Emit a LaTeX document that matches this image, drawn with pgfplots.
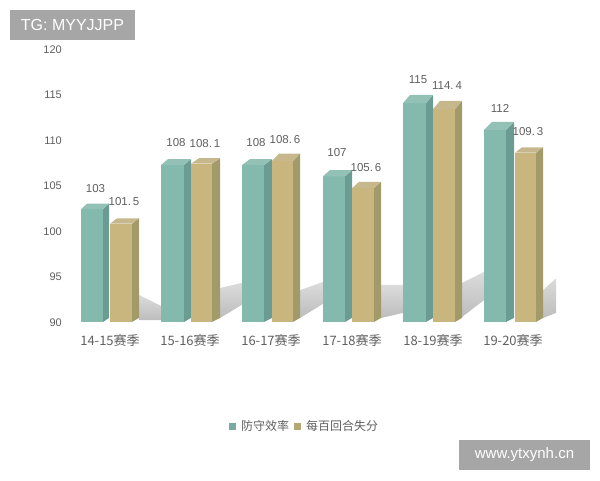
\documentclass[border=0pt]{standalone}
\usepackage{fontspec}
\usepackage{pgfplots}
\pgfplotsset{compat=1.18}
\setmainfont{Liberation Sans}
\newfontfamily\cjk{Noto Sans CJK SC}

\definecolor{tealF}{HTML}{84B9AD}
\definecolor{tealS}{HTML}{6A9C93}
\definecolor{tealT}{HTML}{93C1B6}
\definecolor{tanF}{HTML}{C8B67E}
\definecolor{tanS}{HTML}{A39A69}
\definecolor{tanT}{HTML}{C6B88C}
\definecolor{txt}{HTML}{5F5F5F}
\definecolor{wmgray}{HTML}{A6A6A6}

% one bar: x left, x right, x back, front top, back top, colour prefix
\newcommand{\threedbar}[6]{%
  \addplot[forget plot,draw=none,fill=#6F] coordinates {(#1,90) (#2,90) (#2,#4) (#1,#4)} --cycle;
  \addplot[forget plot,draw=none,fill=#6S] coordinates {(#2,90) (#3,90.45) (#3,#5) (#2,#4)} --cycle;
  \addplot[forget plot,draw=none,fill=#6T] coordinates {(#1,#4) (#2,#4) (#3,#5) (#1+#3-#2,#5)} --cycle;
}
% floor shadow: x left, x right, top left, top right, bottom right, bottom left
\newcommand{\floorshadow}[6]{%
  \addplot[forget plot,draw=none,top color=black!14,bottom color=black!26] coordinates {(#1,#3) (#2,#4) (#2,#5) (#1,#6)} --cycle;
}

\begin{document}
\begin{tikzpicture}[x=1pt,y=1pt]
\useasboundingbox (0,-158) rectangle (600,322);
\begin{axis}[
  at={(0,0)}, anchor=origin,
  scale only axis, x=1pt, y=9.1pt,
  xmin=0, xmax=600, ymin=90, ymax=120,
  clip=false,
  axis line style={draw=none},
  major tick length=0pt,
  ytick={90,95,...,120},
  xtick={110,190,271,352,433,513},
  xticklabels={14-15赛季,15-16赛季,16-17赛季,17-18赛季,18-19赛季,19-20赛季},
  xticklabel style={font=\cjk\fontsize{13}{14}\selectfont,text=txt,anchor=center,yshift=-18pt,inner sep=0pt},
  yticklabel style={font=\fontsize{11}{12}\selectfont,text=txt,anchor=east,xshift=62pt,yshift=-0.5pt,inner sep=0pt},
  /pgf/number format/assume math mode=true,
  legend style={draw=none,fill=none,at={(axis cs:229,78.57)},anchor=west,
    font=\cjk\fontsize{12}{13}\selectfont,text=txt,legend columns=2,
    /tikz/every even column/.append style={column sep=3pt},
    /tikz/every odd column/.append style={column sep=3pt},inner sep=0pt},
  legend image code/.code={\fill[draw=none,#1] (0,-3.5pt) rectangle (7pt,3.5pt);},
]
\floorshadow{139}{161}{92.97}{91.76}{90.2}{90.2}
\floorshadow{220}{242}{93.74}{94.3}{91.9}{90.44}
\floorshadow{300}{323}{93.5}{94.4}{92}{90.44}
\floorshadow{381}{403}{94.07}{94.07}{91}{90.44}
\floorshadow{462}{484}{94.3}{95.5}{92.4}{90.55}
\floorshadow{543}{556}{93.5}{94.8}{91}{90.44}

\threedbar{81}{103}{109}{102.4}{103}{teal}
\threedbar{110}{132}{139}{100.8}{101.4}{tan}
\threedbar{161}{184}{191}{107.25}{107.9}{teal}
\threedbar{191}{212}{220}{107.4}{108}{tan}
\threedbar{242}{264}{272}{107.25}{107.9}{teal}
\threedbar{272}{293}{300}{107.7}{108.5}{tan}
\threedbar{323}{345}{352}{106}{106.7}{teal}
\threedbar{352}{374}{381}{104.7}{105.4}{tan}
\threedbar{403}{426}{433}{114.05}{114.95}{teal}
\threedbar{433}{455}{462}{113.4}{114.3}{tan}
\threedbar{484}{506}{514}{111.1}{112}{teal}
\threedbar{515}{536}{543}{108.6}{109.2}{tan}

\addlegendimage{draw=none,fill=tealS!50!tealF}
\addlegendentry{防守效率}
\addlegendimage{draw=none,fill=tanS!50!tanF}
\addlegendentry{每百回合失分}

\tikzset{lab/.style={font=\fontsize{11.5}{12}\selectfont,text=txt,inner sep=0pt}}
\node[lab] at (axis cs:95.5,104.7) {103};
\node[lab] at (axis cs:124,103.2) {101.\,5};
\node[lab] at (axis cs:176,109.7) {108};
\node[lab] at (axis cs:205,109.6) {108.\,1};
\node[lab] at (axis cs:256,109.7) {108};
\node[lab] at (axis cs:285,110.1) {108.\,6};
\node[lab] at (axis cs:337,108.6) {107};
\node[lab] at (axis cs:366,107) {105.\,6};
\node[lab] at (axis cs:418,116.6) {115};
\node[lab] at (axis cs:447,116) {114.\,4};
\node[lab] at (axis cs:500,113.5) {112};
\node[lab] at (axis cs:528,110.9) {109.\,3};

\fill[wmgray] (axis cs:10,120.99) rectangle (axis cs:135,124.29);
\node[font=\fontsize{16}{18}\selectfont,text=white,inner sep=0pt] at (axis cs:72.5,122.64) {TG: MYYJJPP};
\fill[wmgray] (axis cs:459,73.74) rectangle (axis cs:590,77.03);
\node[font=\fontsize{15}{18}\selectfont,text=white,inner sep=0pt] at (axis cs:524.5,75.38) {www.ytxynh.cn};
\end{axis}
\end{tikzpicture}
\end{document}
